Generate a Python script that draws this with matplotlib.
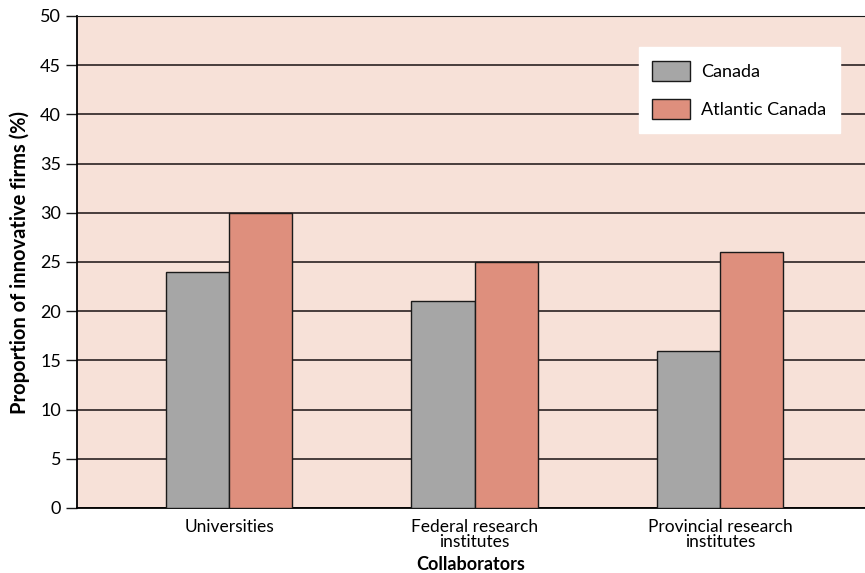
import numpy as np
import matplotlib.pyplot as plt

categories = ["Universities", "Federal research\ninstitutes", "Provincial research\ninstitutes"]
canada = [24, 21, 16]
atlantic = [30, 25, 26]
series_names = ["Canada", "Atlantic Canada"]
yticks = [0, 5, 10, 15, 20, 25, 30, 35, 40, 45, 50]

plt.rcParams['font.family'] = ['Lato', 'DejaVu Sans']

fig = plt.figure(figsize=(8.65, 5.73), dpi=100)
ax = fig.add_axes([77 / 865, 1 - 508 / 573, 1 - 77 / 865, (508 - 16) / 573])
ax.set_facecolor('#f7e1d8')

x = np.arange(len(categories))
w = 0.257
ax.bar(x - w / 2, canada, w, color='#a6a6a6', edgecolor='#1a1a1a', linewidth=1.0, zorder=3, label=series_names[0])
ax.bar(x + w / 2, atlantic, w, color='#de8f7d', edgecolor='#1a1a1a', linewidth=1.0, zorder=3, label=series_names[1])

ax.set_ylim(0, 50)
ax.set_xlim(-0.619, 2.59)
ax.set_yticks(yticks)
ax.set_xticks(x)
ax.set_xticklabels(categories, fontsize=12.5, linespacing=0.95)
ax.tick_params(axis='y', labelsize=13, length=8, width=1.0, direction='out', color='#1a1a1a')
ax.tick_params(axis='x', length=0, pad=8)
ax.yaxis.grid(True, color='#3a3030', linewidth=1.3, zorder=1)
ax.set_axisbelow(True)

ax.spines['right'].set_visible(False)
ax.spines['top'].set_color('#1a1a1a')
ax.spines['left'].set_linewidth(1.3)
ax.spines['bottom'].set_linewidth(1.3)

ax.set_ylabel("Proportion of innovative firms (%)", fontsize=14.5, fontweight='bold', labelpad=7)
ax.set_xlabel("Collaborators", fontsize=13, fontweight='bold', va='center')
ax.xaxis.set_label_coords(0.5, -0.115)

leg = ax.legend(loc='upper right', bbox_to_anchor=(0.968, 0.937), frameon=True, fancybox=False,
                fontsize=13, handlelength=2.1, handleheight=1.4, handletextpad=0.6,
                borderpad=0.75, labelspacing=0.95, borderaxespad=0)
leg.get_frame().set_facecolor('white')
leg.get_frame().set_edgecolor('white')
leg.get_frame().set_alpha(1)

plt.savefig('out.png', dpi=100)
